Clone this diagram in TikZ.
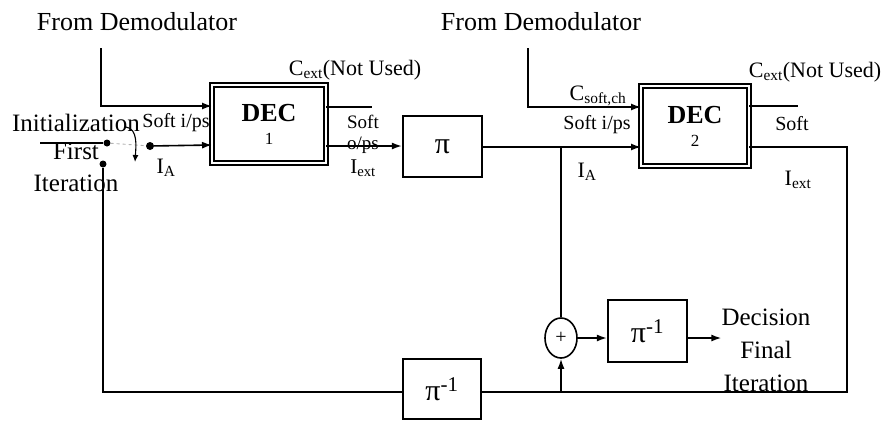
\documentclass[tikz,border=0pt]{standalone}
\usepackage{fontspec}
\setmainfont{Liberation Serif}
\usetikzlibrary{arrows.meta,shapes.geometric}
\begin{document}
\begin{tikzpicture}[x=1pt,y=-1pt,
  ln/.style={line width=1.6pt},
  arr/.style={line width=1.6pt,-{Latex[length=10pt,width=7pt]}},
  blk/.style={draw,line width=2.2pt,inner sep=0pt,font=\fontsize{30}{30}\selectfont},
  decbox/.style={draw,line width=1.6pt,double,double distance=2.2pt,inner sep=0pt,align=center,
                 font=\fontsize{26}{23}\selectfont},
  lbig/.style={font=\fontsize{26}{30}\selectfont,inner sep=0pt},
  lsml/.style={font=\fontsize{22}{26}\selectfont,inner sep=0pt},
  lsoft/.style={font=\fontsize{20}{24}\selectfont,inner sep=0pt},
  contact/.style={circle,fill,inner sep=0pt,minimum size=8pt},
  sw/.style={draw=gray!60,line width=0.9pt,dashed},
]
\useasboundingbox (0,0) rectangle (885,421);

% ---------- text labels ----------
\node[lbig] (dmL) at (137,22) {From Demodulator};
\node[lbig] (dmR) at (541,22) {From Demodulator};
\node[lbig,font=\fontsize{25}{30}\selectfont] (init) at (76,123) {Initialization};
\node[lbig,font=\fontsize{25}{30}\selectfont] (first) at (76,151) {First};
\node[lbig,font=\fontsize{25}{30}\selectfont] (iter) at (76,183) {Iteration};
\node[lsoft] (sip1) at (176,123) {Soft i/ps};
\node[lsml] (ia1) at (166,168) {I\textsubscript{A}};
\node[lsml] (cext1) at (355,70) {C\textsubscript{ext}(Not Used)};
\node[lsoft,font=\fontsize{19}{22}\selectfont] (so1) at (363,122) {Soft};
\node[lsoft,font=\fontsize{19}{22}\selectfont] (ops1) at (363,145) {o/ps};
\node[lsml,font=\fontsize{21}{24}\selectfont] (iext1) at (363,168) {I\textsubscript{ext}};
\node[lsml] (csoft) at (598,96) {C\textsubscript{soft,ch}};
\node[lsoft] (sip2) at (597,125) {Soft i/ps};
\node[lsml] (ia2) at (587,172) {I\textsubscript{A}};
\node[lsml] (cext2) at (815,72) {C\textsubscript{ext}(Not Used)};
\node[lsoft] (so2) at (792,124) {Soft};
\node[lsml] (iext2) at (798,180) {I\textsubscript{ext}};
\node[font=\fontsize{25}{33}\selectfont,align=center,inner sep=0pt] (dec) at (766,350) {Decision\\Final\\Iteration};

% ---------- blocks ----------
\node[decbox,minimum width=114pt,minimum height=78pt] (dec1) at (269,124)
  {\textbf{DEC}\\{\fontsize{17}{17}\selectfont 1}};
\node[decbox,minimum width=108pt,minimum height=80pt] (dec2) at (695,126)
  {\textbf{DEC}\\{\fontsize{17}{17}\selectfont 2}};
\node[blk,minimum width=79pt,minimum height=61pt] (pi1) at (442.5,146.5) {π};
\node[blk,minimum width=79pt,minimum height=62pt] (pi2) at (647.5,331) {π\textsuperscript{-1}};
\node[blk,minimum width=78pt,minimum height=60pt] (pib) at (442,389) {π\textsuperscript{-1}};
\node[ellipse,draw,line width=1.6pt,minimum width=32pt,minimum height=40pt,inner sep=0pt,
      font=\fontsize{20}{20}\selectfont] (add) at (561,338) {+};

% ---------- switch ----------
\node[contact,minimum size=7pt] (c1) at (107,143) {};
\node[contact,minimum size=7pt] (c2) at (103,164) {};
\node[contact] (pv) at (150,146) {};

% ---------- coordinates ----------
\coordinate (tl) at (101,48);
\coordinate (d1a) at (212,106);
\coordinate (d1b) at (212,145);
\coordinate (initL) at (40,143);
\coordinate (o1a) at (326,107);
\coordinate (o1aE) at (372,107);
\coordinate (o1b) at (326,146);
\coordinate (tr) at (528,48);
\coordinate (d2a) at (641,107);
\coordinate (d2b) at (641,147);
\coordinate (o2a) at (749,106);
\coordinate (o2aE) at (798,106);
\coordinate (o2b) at (749,147);
\coordinate (rc) at (847,147);
\coordinate (rb) at (847,392);
\coordinate (j1) at (561,147);
\coordinate (j2) at (561,392);
\coordinate (lb) at (103,392);
\coordinate (ca) at (126,127);
\coordinate (cb) at (135,162);

% ---------- connectors ----------
\draw[arr] (tl) |- (d1a);
\draw[ln] (initL) -- (c1);
\draw[sw] (c1) -- (pv);
\draw[arr] (pv) -- (d1b);
\draw[line width=1.1pt,-{Latex[length=7pt,width=6pt]}] (ca) .. controls (138,129) and (136,146) .. (cb);
\draw[ln] (o1a) -- (o1aE);
\draw[arr] (o1b) -- (pi1.west |- o1b);
\draw[arr] (pi1.east |- d2b) -- (d2b);
\draw[arr] (tr) |- (d2a);
\draw[ln] (o2a) -- (o2aE);
\draw[ln] (o2b) -- (rc) -- (rb) -- (pib.east |- rb);
\draw[ln] (pib.west |- lb) -- (lb) -- (c2);
\draw[ln] (j1) -- (add.north);
\draw[arr] (j2) -- (add.south);
\draw[arr] (add.east) -- (pi2.west |- add.east);
\draw[arr] (pi2.east |- add.east) -- (dec.west |- add.east);
\end{tikzpicture}
\end{document}
